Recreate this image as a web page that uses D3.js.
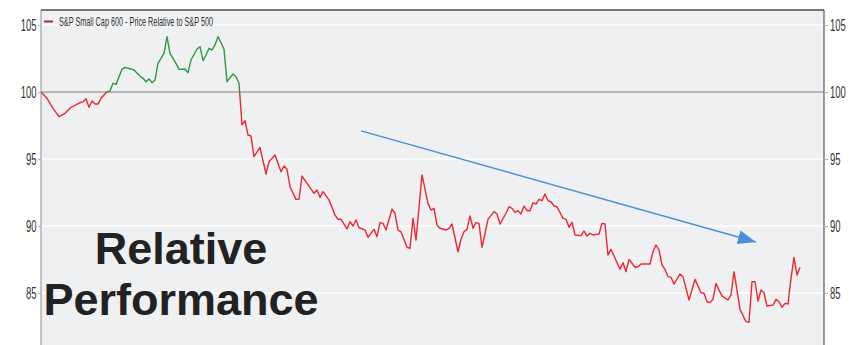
<!DOCTYPE html>
<html>
<head>
<meta charset="utf-8">
<script src="https://d3js.org/d3.v7.min.js"></script>
<style>
  body { margin: 0; background: #fff; }
  svg { display: block; }
</style>
</head>
<body>
<svg id="chart" width="852" height="345"></svg>
<script>
"use strict";
/*global d3:false */

// trading day index and relative price (S&P 600 / S&P 500, rebased to 100)
var days = [
  0, 2, 4, 6, 8, 10, 11, 13, 14, 15, 16, 17, 18, 19, 20, 22, 23, 24, 25, 27,
  28, 30, 31, 33, 34, 35, 36, 37, 38, 39, 41, 42, 43, 45, 46, 48, 49, 50, 52, 53,
  54, 55, 56, 57, 58, 59, 60, 61, 62, 64, 65, 66, 67, 68, 69, 70, 71, 73, 75, 76,
  78, 80, 81, 82, 83, 85, 86, 87, 91, 92, 93, 94, 96, 98, 99, 100, 102, 103, 104, 105,
  106, 108, 109, 111, 112, 113, 114, 115, 117, 118, 119, 120, 122, 123, 124, 125, 127, 129, 130, 131,
  132, 133, 135, 136, 137, 139, 140, 141, 142, 143, 144, 145, 146, 147, 149, 151, 152, 153, 155, 156,
  157, 158, 159, 160, 161, 162, 163, 164, 165, 166, 167, 168, 169, 170, 171, 172, 174, 175, 176, 177,
  178, 180, 181, 182, 183, 184, 186, 187, 188, 189, 190, 191, 193, 194, 195, 196, 198, 199, 200, 203,
  204, 205, 206, 207, 208, 209, 210, 211, 213, 214, 216, 218, 220, 221, 222, 223, 224, 225, 226, 227,
  229, 230, 231, 232, 233, 235, 236, 237, 238, 239, 240, 241, 242, 244, 245, 246, 247, 248, 249, 250,
  251, 252, 253
];
var values = [
  100.00, 99.53, 98.78, 98.16, 98.41, 98.86, 98.96, 99.20, 99.28, 99.50, 98.86, 99.33, 99.10, 99.10, 99.53, 100.02, 100.07, 100.65, 100.57, 101.69,
  101.84, 101.72, 101.64, 101.19, 101.02, 100.77, 100.98, 100.69, 100.90, 102.14, 102.89, 104.13, 102.89, 102.14, 101.69, 101.72, 101.44, 102.39, 103.21, 103.38,
  102.34, 102.76, 103.26, 103.13, 103.51, 104.13, 103.68, 103.19, 100.77, 101.34, 101.14, 100.65, 97.54, 97.86, 96.79, 96.72, 95.17, 95.87, 93.88, 94.80,
  95.30, 94.05, 94.48, 94.23, 92.93, 91.99, 91.99, 93.73, 92.44, 92.69, 92.14, 92.56, 91.95, 90.82, 90.50, 90.50, 89.78, 90.32, 90.00, 90.45,
  89.87, 89.70, 89.16, 89.75, 89.20, 90.25, 90.20, 89.70, 91.25, 90.95, 89.70, 89.57, 88.41, 88.34, 90.57, 88.96, 93.81, 91.69, 91.19, 91.32,
  90.07, 89.83, 89.70, 89.83, 90.15, 88.08, 89.01, 89.57, 89.75, 90.75, 89.83, 90.25, 90.20, 88.41, 90.50, 91.07, 90.90, 90.15, 90.95, 91.44,
  91.32, 91.02, 91.14, 90.90, 91.49, 91.14, 91.14, 91.74, 91.64, 91.99, 91.89, 92.39, 91.89, 91.81, 91.49, 91.44, 90.57, 90.50, 89.90, 90.28,
  89.33, 89.28, 89.63, 89.25, 89.46, 89.33, 89.40, 90.20, 90.15, 87.84, 88.26, 87.76, 86.77, 87.26, 86.59, 87.51, 86.92, 86.96, 87.16, 87.16,
  88.08, 88.58, 88.21, 87.09, 86.77, 86.22, 86.17, 85.67, 86.42, 86.22, 84.48, 86.02, 85.02, 84.98, 84.35, 84.28, 84.53, 85.72, 85.22, 84.78,
  84.48, 84.85, 86.59, 85.22, 83.78, 82.86, 82.81, 85.84, 85.84, 84.40, 85.22, 85.02, 84.03, 84.10, 84.53, 84.35, 83.93, 84.23, 84.18, 86.10,
  87.66, 86.34, 86.92
];
var yTicks = [85, 90, 95, 100, 105];
var baseline = 100;
var legendLabel = "S&P Small Cap 600 - Price Relative to S&P 500";
var noteLines = ["Relative", "Performance"];
var trendStart = [106.7, 97.1];   // [day, value]
var trendEnd = [238.3, 88.8];

var plot = { left: 41, right: 824, top: 10, bottom: 345 };
var squeeze = 0.56;   // tick labels are drawn narrow

var x = d3.scaleLinear().domain([0, 261]).range([plot.left, plot.right]);
var y = d3.scaleLinear().domain([81.12, 106.12]).range([plot.bottom, plot.top]);

var svg = d3.select('#chart');
var defs = svg.append('defs');

// plot background
svg.append('rect')
  .attr('x', plot.left).attr('y', plot.top)
  .attr('width', plot.right - plot.left).attr('height', plot.bottom - plot.top)
  .attr('fill', '#eff0f2');

// grid lines
svg.append('g').selectAll('line')
  .data(yTicks)
  .enter()
  .append('line')
  .attr('x1', plot.left).attr('x2', plot.right)
  .attr('y1', function(d) { return y(d); })
  .attr('y2', function(d) { return y(d); })
  .attr('stroke', function(d) { return d === baseline ? '#a4a4a4' : '#ffffff'; })
  .attr('stroke-width', function(d) { return d === baseline ? 1.6 : 1.5; });

// axis lines / frame
svg.append('line')
  .attr('x1', plot.left).attr('x2', plot.left).attr('y1', plot.top).attr('y2', plot.bottom)
  .attr('stroke', '#8c8c8c').attr('stroke-width', 1);
svg.append('line')
  .attr('x1', plot.right).attr('x2', plot.right).attr('y1', plot.top).attr('y2', plot.bottom)
  .attr('stroke', '#5a5a5a').attr('stroke-width', 1.2);
svg.append('line')
  .attr('x1', plot.left).attr('x2', plot.right).attr('y1', plot.top).attr('y2', plot.top)
  .attr('stroke', '#4a4a4a').attr('stroke-width', 1.4);

function styleAxis(g, anchor, offset) {
  g.select('.domain').remove();
  g.selectAll('.tick line').attr('stroke', '#b0b0b0');
  g.selectAll('.tick text')
    .attr('fill', '#333')
    .attr('font-family', 'Liberation Sans, Arial, sans-serif')
    .attr('font-size', 17)
    .attr('text-anchor', anchor)
    .attr('x', offset / squeeze)
    .attr('transform', 'scale(' + squeeze + ',1)');
}

svg.append('g')
  .attr('transform', 'translate(' + plot.left + ',0)')
  .call(d3.axisLeft(y).tickValues(yTicks).tickSize(3).tickFormat(d3.format('d')))
  .call(styleAxis, 'end', -4.5);

svg.append('g')
  .attr('transform', 'translate(' + plot.right + ',0)')
  .call(d3.axisRight(y).tickValues(yTicks).tickSize(4).tickFormat(d3.format('d')))
  .call(styleAxis, 'start', 6);

// series: green above the baseline, red below
var series = days.map(function(d, i) { return [d, values[i]]; });
var line = d3.line()
  .x(function(d) { return x(d[0]); })
  .y(function(d) { return y(d[1]); });

defs.append('clipPath').attr('id', 'above')
  .append('rect')
  .attr('x', plot.left).attr('y', plot.top)
  .attr('width', plot.right - plot.left).attr('height', y(baseline) - plot.top);
defs.append('clipPath').attr('id', 'below')
  .append('rect')
  .attr('x', plot.left).attr('y', y(baseline))
  .attr('width', plot.right - plot.left).attr('height', plot.bottom - y(baseline));

[['above', '#2c9a3c'], ['below', '#f0262d']].forEach(function(part) {
  svg.append('path')
    .datum(series)
    .attr('clip-path', 'url(#' + part[0] + ')')
    .attr('fill', 'none')
    .attr('stroke', part[1])
    .attr('stroke-width', 1.4)
    .attr('stroke-linejoin', 'round')
    .attr('d', line);
});

// legend
svg.append('line')
  .attr('x1', 44).attr('x2', 53).attr('y1', 21.5).attr('y2', 21.5)
  .attr('stroke', '#a3274f').attr('stroke-width', 2);
svg.append('text')
  .attr('x', 59 / 0.56).attr('y', 26)
  .attr('transform', 'scale(0.56,1)')
  .attr('font-family', 'Liberation Sans, Arial, sans-serif')
  .attr('font-size', 13)
  .attr('fill', '#333')
  .text(legendLabel);

// trend arrow
defs.append('marker')
  .attr('id', 'head')
  .attr('viewBox', '0 0 18 14')
  .attr('refX', 18).attr('refY', 7)
  .attr('markerWidth', 18).attr('markerHeight', 14)
  .attr('markerUnits', 'userSpaceOnUse')
  .attr('orient', 'auto')
  .append('path')
  .attr('d', 'M0,0 L18,7 L0,14 Z')
  .attr('fill', '#4a8fd8');

svg.append('line')
  .attr('x1', x(trendStart[0])).attr('y1', y(trendStart[1]))
  .attr('x2', x(trendEnd[0])).attr('y2', y(trendEnd[1]))
  .attr('stroke', '#4a8fd8').attr('stroke-width', 1.5)
  .attr('marker-end', 'url(#head)');

// big note
svg.append('g').selectAll('text')
  .data(noteLines)
  .enter()
  .append('text')
  .attr('x', 181)
  .attr('y', function(d, i) { return 264 + i * 51; })
  .attr('text-anchor', 'middle')
  .attr('font-family', 'Liberation Sans, Arial, sans-serif')
  .attr('font-weight', 'bold')
  .attr('font-size', 45)
  .attr('fill', '#222')
  .text(function(d) { return d; });
</script>
</body>
</html>
